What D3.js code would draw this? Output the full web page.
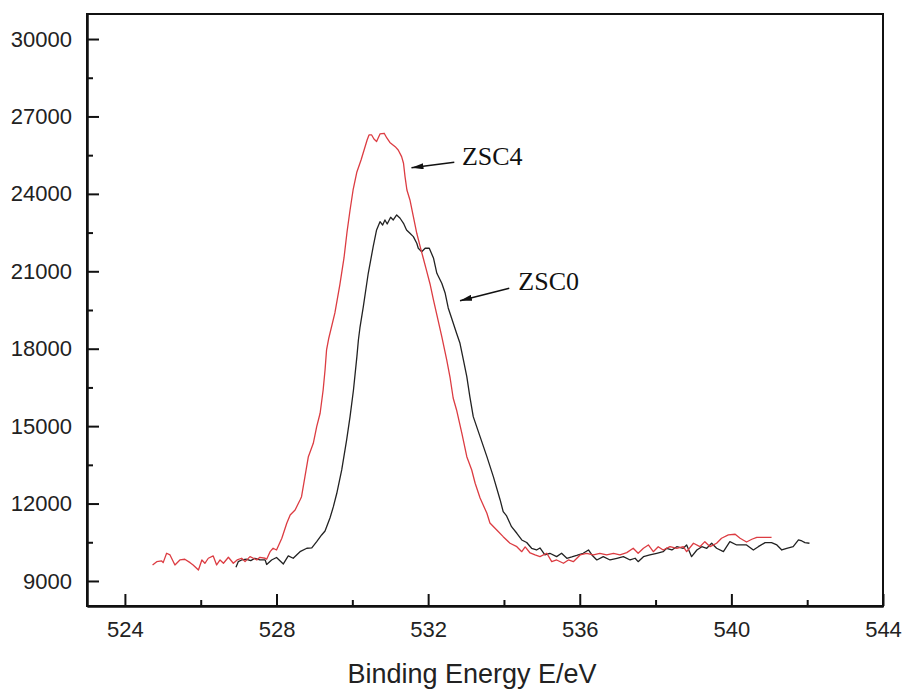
<!DOCTYPE html>
<html>
<head>
<meta charset="utf-8">
<script src="https://cdn.jsdelivr.net/npm/d3@7"></script>
<style>
  html, body { margin: 0; padding: 0; background: #fff; }
  svg { display: block; }
</style>
</head>
<body>
<script>
// ---- data (Binding energy eV, counts) ----
const zsc4 = [[524.73,9620],[524.84,9748],[524.97,9775],[525.01,9710],[525.10,10073],[525.19,10008],[525.32,9620],[525.45,9814],[525.58,9841],[525.72,9709],[525.80,9620],[525.94,9426],[526.03,9814],[526.11,9686],[526.20,9880],[526.33,9969],[526.42,9620],[526.51,9814],[526.60,9686],[526.73,9918],[526.86,9686],[526.96,9814],[527.08,9880],[527.17,9748],[527.30,9942],[527.39,9880],[527.48,9814],[527.56,9918],[527.70,9880],[527.74,9841],[527.83,10135],[527.91,10267],[528.00,10201],[528.14,10655],[528.27,11236],[528.36,11558],[528.49,11751],[528.62,12139],[528.66,12267],[528.75,13042],[528.84,13817],[528.97,14336],[529.06,14979],[529.15,15498],[529.23,16401],[529.28,17176],[529.32,17951],[529.38,18416],[529.54,19385],[529.67,20470],[529.78,21516],[529.86,22524],[529.94,23376],[530.02,24151],[530.12,24849],[530.23,25314],[530.31,25701],[530.39,26089],[530.44,26283],[530.51,26283],[530.57,26128],[530.64,26031],[530.73,26321],[530.84,26348],[530.91,26166],[530.99,25992],[531.13,25829],[531.21,25701],[531.30,25442],[531.35,25186],[531.39,24667],[531.44,24151],[531.52,23764],[531.61,23117],[531.70,22473],[531.79,21954],[531.87,21516],[531.96,21013],[532.05,20509],[532.14,19889],[532.23,19308],[532.36,18467],[532.49,17564],[532.58,16866],[532.66,16091],[532.75,15626],[532.89,14723],[533.02,13817],[533.15,13301],[533.24,12786],[533.37,12216],[533.55,11623],[533.63,11248],[533.81,10976],[533.98,10717],[534.16,10461],[534.34,10329],[534.47,10135],[534.56,10318],[534.69,10085],[534.82,10008],[534.95,9942],[535.13,10073],[535.26,9748],[535.39,9814],[535.57,9686],[535.70,9814],[535.83,9748],[536.01,10008],[536.18,10073],[536.36,10008],[536.53,10073],[536.71,10008],[536.89,10073],[537.06,10008],[537.24,10097],[537.41,10267],[537.54,10073],[537.68,10267],[537.81,10395],[537.94,10135],[538.07,10329],[538.20,10201],[538.38,10329],[538.56,10267],[538.73,10329],[538.82,10135],[539.00,10461],[539.17,10329],[539.30,10523],[539.44,10329],[539.61,10461],[539.74,10655],[539.92,10783],[540.10,10810],[540.23,10655],[540.40,10511],[540.54,10616],[540.67,10693],[540.84,10693],[541.06,10686]];

const zsc0 = [[526.93,9531],[526.99,9748],[527.08,9814],[527.21,9841],[527.32,9787],[527.43,9880],[527.56,9814],[527.70,9814],[527.74,9639],[527.87,9814],[528.00,9911],[528.18,9659],[528.31,9969],[528.44,9880],[528.62,10135],[528.80,10267],[528.93,10279],[529.06,10523],[529.19,10783],[529.28,10938],[529.41,11441],[529.50,11879],[529.59,12398],[529.72,13301],[529.85,14464],[529.94,15367],[530.03,16401],[530.12,17692],[530.16,18339],[530.20,18804],[530.29,19629],[530.42,20923],[530.55,21954],[530.64,22601],[530.73,22923],[530.80,22795],[530.86,22989],[530.92,22834],[531.01,23093],[531.08,22989],[531.17,23183],[531.26,23055],[531.35,22861],[531.43,22601],[531.52,22473],[531.61,22342],[531.70,22086],[531.74,21892],[531.83,21760],[531.92,21892],[532.03,21892],[532.14,21516],[532.23,20923],[532.36,20536],[532.45,20148],[532.53,19579],[532.62,19180],[532.75,18598],[532.84,18211],[532.93,17564],[533.02,16917],[533.10,16142],[533.19,15367],[533.37,14592],[533.55,13817],[533.72,13042],[533.90,12139],[533.98,11685],[534.07,11519],[534.20,11104],[534.34,10848],[534.47,10589],[534.60,10492],[534.73,10267],[534.86,10201],[534.95,10279],[535.08,10008],[535.21,10073],[535.39,9942],[535.52,10073],[535.66,9880],[535.79,9930],[535.92,9988],[536.09,10073],[536.23,10201],[536.32,10008],[536.45,9814],[536.62,9942],[536.80,9814],[536.98,9880],[537.15,9942],[537.33,9814],[537.46,9880],[537.54,9748],[537.68,9942],[537.85,10008],[538.03,10073],[538.20,10135],[538.29,10267],[538.43,10201],[538.56,10329],[538.73,10267],[538.82,10395],[538.95,9942],[539.09,10201],[539.22,10329],[539.35,10267],[539.48,10461],[539.61,10267],[539.79,10135],[539.96,10523],[540.14,10395],[540.40,10395],[540.58,10201],[540.71,10329],[540.89,10484],[541.06,10484],[541.20,10395],[541.33,10201],[541.46,10267],[541.63,10329],[541.77,10589],[541.86,10550],[541.94,10484],[542.06,10461]];

const xMajorTicks = [524, 528, 532, 536, 540, 544];
const xMinorTicks = [526, 530, 534, 538, 542];
const yMajorTicks = [9000, 12000, 15000, 18000, 21000, 24000, 27000, 30000];
const yMinorTicks = [10500, 13500, 16500, 19500, 22500, 25500, 28500];
const xTitle = "Binding Energy E/eV";

// annotations: label position and arrow (tail -> head) in data units
const labels = [
  { text: "ZSC4", x: 532.89, y: 25120, tail: [532.69, 25224], head: [531.56, 25015] },
  { text: "ZSC0", x: 534.38, y: 20276, tail: [534.14, 20342], head: [532.84, 19862] }
];

// ---- layout ----
const W = 904, H = 690;
const L = 87, R = 883, T = 14, B = 606;

const svg = d3.select("body").append("svg").attr("width", W).attr("height", H);

const x = d3.scaleLinear().domain([523, 544]).range([L, R]);
const y = d3.scaleLinear().domain([8030, 30970]).range([B, T]);

const tickFont = "'Liberation Sans', Arial, sans-serif";

// frame
svg.append("rect").attr("x", L).attr("y", T).attr("width", R - L).attr("height", B - T)
  .attr("fill", "none").attr("stroke", "#111").attr("stroke-width", 2);

// x axis
const gx = svg.append("g").attr("transform", `translate(0,${B})`);
gx.call(d3.axisBottom(x).tickValues(xMajorTicks).tickFormat(d3.format("d"))
  .tickSizeInner(-12).tickSizeOuter(0).tickPadding(15));
const gxm = svg.append("g").attr("transform", `translate(0,${B})`);
gxm.call(d3.axisBottom(x).tickValues(xMinorTicks).tickFormat("").tickSizeInner(-6).tickSizeOuter(0));

// y axis
const gy = svg.append("g").attr("transform", `translate(${L},0)`);
gy.call(d3.axisLeft(y).tickValues(yMajorTicks).tickFormat(d3.format("d"))
  .tickSizeInner(-12).tickSizeOuter(0).tickPadding(15));
const gym = svg.append("g").attr("transform", `translate(${L},0)`);
gym.call(d3.axisLeft(y).tickValues(yMinorTicks).tickFormat("").tickSizeInner(-6).tickSizeOuter(0));

[gx, gxm, gy, gym].forEach(g => {
  g.select(".domain").attr("stroke", "#111").attr("stroke-width", 2);
  g.selectAll(".tick line").attr("stroke", "#111").attr("stroke-width", 2);
  g.selectAll(".tick text").attr("fill", "#222").style("font-family", tickFont).style("font-size", "22px");
});

// title
svg.append("text").attr("x", 472).attr("y", 683).attr("text-anchor", "middle")
  .style("font-family", tickFont).style("font-size", "27px").attr("fill", "#222").text(xTitle);

// lines
const line = d3.line().x(d => x(d[0])).y(d => y(d[1]));
svg.append("path").datum(zsc0).attr("d", line).attr("fill", "none")
  .attr("stroke", "#222").attr("stroke-width", 1.3).attr("stroke-linejoin", "round");
svg.append("path").datum(zsc4).attr("d", line).attr("fill", "none")
  .attr("stroke", "#dc3c42").attr("stroke-width", 1.3).attr("stroke-linejoin", "round");

// annotations
const defs = svg.append("defs");
defs.append("marker").attr("id", "ah").attr("viewBox", "0 0 12 6").attr("refX", 12).attr("refY", 3)
  .attr("markerWidth", 12).attr("markerHeight", 6).attr("markerUnits", "userSpaceOnUse")
  .attr("orient", "auto")
  .append("path").attr("d", "M0,0 L12,3 L0,6 Z").attr("fill", "#111");

labels.forEach(a => {
  svg.append("line")
    .attr("x1", x(a.tail[0])).attr("y1", y(a.tail[1]))
    .attr("x2", x(a.head[0])).attr("y2", y(a.head[1]))
    .attr("stroke", "#111").attr("stroke-width", 1.5).attr("marker-end", "url(#ah)");
  svg.append("text").attr("x", x(a.x)).attr("y", y(a.y))
    .style("font-family", "'Liberation Serif', 'Times New Roman', serif").style("font-size", "26px")
    .attr("fill", "#111").text(a.text);
});
</script>
</body>
</html>
